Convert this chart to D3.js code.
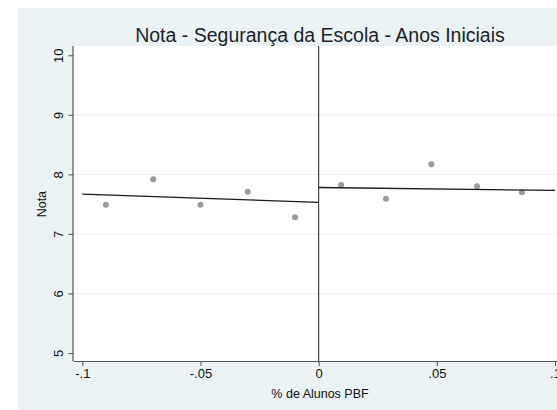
<!DOCTYPE html>
<html>
<head>
<meta charset="utf-8">
<script src="https://cdn.jsdelivr.net/npm/d3@7"></script>
<style>
  html, body { margin: 0; padding: 0; background: #ffffff; }
  svg { display: block; }
  text { font-family: "Liberation Sans", Arial, Helvetica, sans-serif; }
</style>
</head>
<body>
<script>
// Binned means of school safety score around the PBF cutoff (regression discontinuity)
const binXLeft  = [-0.09, -0.07, -0.05, -0.03, -0.01];
const binYLeft  = [7.49, 7.92, 7.49, 7.71, 7.28];
const binXRight = [0.0095, 0.0285, 0.0477, 0.067, 0.086];
const binYRight = [7.82, 7.59, 8.17, 7.80, 7.70];

// Linear fits on each side of the cutoff
const fitXLeft  = [-0.1, 0];
const fitYLeft  = [7.67, 7.53];
const fitXRight = [0, 0.1];
const fitYRight = [7.78, 7.73];

const xTicks = [-0.1, -0.05, 0, 0.05, 0.1];
const xTickLabels = ["-.1", "-.05", "0", ".05", ".1"];
const yTicks = [5, 6, 7, 8, 9, 10];
const yGrid = [6, 7, 8, 9];

const titleText = "Nota - Segurança da Escola - Anos Iniciais";
const xTitle = "% de Alunos PBF";
const yTitle = "Nota";

const W = 557, H = 410;
const svg = d3.select("body").append("svg").attr("width", W).attr("height", H);

// Outer graph region
svg.append("rect").attr("x", 18).attr("y", 8).attr("width", W - 18).attr("height", H - 8)
  .attr("fill", "#eaf2f3");

const plot = { left: 73.5, top: 46, right: 557, bottom: 361 };
const x = d3.scaleLinear().domain([-0.1, 0.1]).range([82.3, 555]);
const y = d3.scaleLinear().domain([5, 10]).range([353, 55.3]);

svg.append("rect")
  .attr("x", plot.left).attr("y", plot.top)
  .attr("width", plot.right - plot.left).attr("height", plot.bottom - plot.top)
  .attr("fill", "#ffffff");

// Horizontal grid
svg.append("g").selectAll("line").data(yGrid).join("line")
  .attr("x1", plot.left).attr("x2", plot.right)
  .attr("y1", d => y(d)).attr("y2", d => y(d))
  .attr("stroke", "#eaf2f3").attr("stroke-width", 1);

// Axes
const xAxis = d3.axisBottom(x).tickValues(xTicks)
  .tickFormat((d, i) => xTickLabels[i]).tickSize(5).tickPadding(3).tickSizeOuter(0);
const gx = svg.append("g").attr("transform", `translate(0,${plot.bottom})`).call(xAxis);
gx.select(".domain").attr("d", `M${plot.left},0.5H${plot.right}`).attr("stroke", "#555").attr("stroke-width", 1.2);
gx.selectAll(".tick line").attr("stroke", "#555");
gx.selectAll(".tick text").attr("font-size", 13).attr("fill", "#111")
  .attr("font-family", "Liberation Sans, Arial, sans-serif");

const yAxis = d3.axisLeft(y).tickValues(yTicks).tickFormat(d3.format("d"))
  .tickSize(5).tickPadding(3).tickSizeOuter(0);
const gy = svg.append("g").attr("transform", `translate(${plot.left},0)`).call(yAxis);
gy.select(".domain").attr("d", `M-0.5,${plot.top}V${plot.bottom}`).attr("stroke", "#555").attr("stroke-width", 1.2);
gy.selectAll(".tick line").attr("stroke", "#555");
gy.selectAll(".tick text")
  .attr("font-size", 13).attr("fill", "#111")
  .attr("font-family", "Liberation Sans, Arial, sans-serif")
  .attr("x", null).attr("dy", null)
  .attr("text-anchor", "middle")
  .attr("transform", "translate(-10.5,0) rotate(-90)")
  .attr("y", 0);

// Cutoff line
svg.append("line")
  .attr("x1", x(0)).attr("x2", x(0))
  .attr("y1", plot.top).attr("y2", plot.bottom)
  .attr("stroke", "#333").attr("stroke-width", 1.1);

// Binned points
const pts = binXLeft.map((d, i) => [d, binYLeft[i]])
  .concat(binXRight.map((d, i) => [d, binYRight[i]]));
svg.append("g").selectAll("circle").data(pts).join("circle")
  .attr("cx", d => x(d[0])).attr("cy", d => y(d[1]))
  .attr("r", 3).attr("fill", "#9a9a9a");

// Fit lines
const line = d3.line().x(d => x(d[0])).y(d => y(d[1]));
[[fitXLeft, fitYLeft], [fitXRight, fitYRight]].forEach(([fx, fy]) => {
  svg.append("path")
    .attr("d", line(fx.map((d, i) => [d, fy[i]])))
    .attr("fill", "none").attr("stroke", "#1a1a1a").attr("stroke-width", 1.3);
});

// Titles
svg.append("text").attr("x", 320).attr("y", 42)
  .attr("text-anchor", "middle").attr("font-size", 19.5).attr("fill", "#1a1f2a")
  .text(titleText);

svg.append("text").attr("x", 320).attr("y", 398)
  .attr("text-anchor", "middle").attr("font-size", 12.5).attr("fill", "#111")
  .text(xTitle);

svg.append("text")
  .attr("transform", `translate(46,${(y(5) + y(10)) / 2 + 0}) rotate(-90)`)
  .attr("text-anchor", "middle").attr("font-size", 12.5).attr("fill", "#111")
  .text(yTitle);
</script>
</body>
</html>
